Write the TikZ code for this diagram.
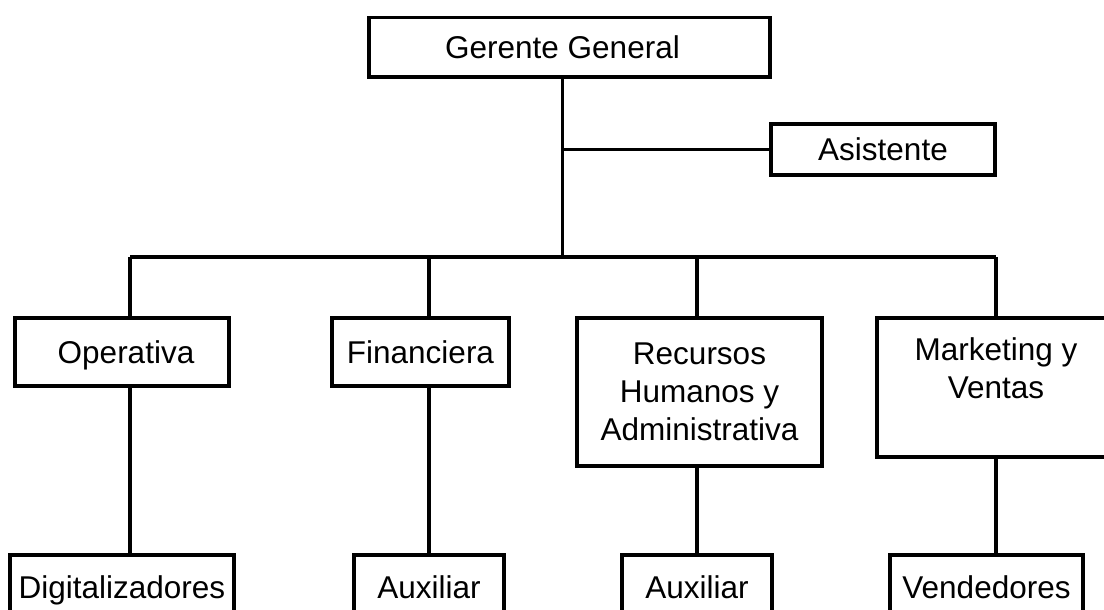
\documentclass[tikz,border=0pt]{standalone}
\usepackage{fontspec}
\setmainfont{Liberation Sans}
\begin{document}
\begin{tikzpicture}[x=1pt,y=-1pt,
  box/.style={draw,line width=3.3pt,inner sep=0pt,align=center,
    font=\fontsize{31.5}{38}\selectfont},
  oneline/.style={text height=28pt,text depth=5.4pt},
  link/.style={line width=3.3pt}]
\useasboundingbox (0,0) rectangle (1104,610);
\clip (0,0) rectangle (1104,610);
% top level
\node[box,oneline,minimum width=401pt,minimum height=59.5pt] (gg) at (569.5,47.25) {Gerente General\hspace*{14pt}};
\node[box,oneline,minimum width=224pt,minimum height=51pt] (asist) at (883,149.5) {Asistente};
% departments
\node[box,oneline,minimum width=214pt,minimum height=68pt] (op) at (122,352) {\hspace*{8pt}Operativa};
\node[box,oneline,minimum width=177pt,minimum height=68pt] (fin) at (420.5,352) {Financiera};
\node[box,minimum width=245pt,minimum height=148pt] (rh) at (699.5,392) {Recursos\\Humanos y\\Administrativa};
\node[box,minimum width=238pt,minimum height=139pt] (mk) at (996,387.5) {Marketing y\\Ventas\\\phantom{A}};
% staff
\node[box,oneline,minimum width=224pt,minimum height=64pt] (dig) at (122,587) {Digitalizadores};
\node[box,oneline,minimum width=150pt,minimum height=64pt] (aux1) at (429,587) {Auxiliar};
\node[box,oneline,minimum width=150pt,minimum height=64pt] (aux2) at (697,587) {Auxiliar};
\node[box,oneline,minimum width=193pt,minimum height=64pt] (ven) at (986.5,587) {Vendedores};
% branch points on the bus
\coordinate (trunk) at (562.7,257);
\coordinate (b1) at (130,257);
\coordinate (b2) at (429,257);
\coordinate (b3) at (697,257);
\coordinate (b4) at (996,257);
% connectors
\draw[link] (gg.south -| trunk) -- (trunk);
\draw[link] (trunk |- asist.west) -- (asist.west);
\draw[link] (b1) -- (b4);
\draw[link] (b1) -- (op.north -| b1);
\draw[link] (b2) -- (fin.north -| b2);
\draw[link] (b3) -- (rh.north -| b3);
\draw[link] (b4) -- (mk.north -| b4);
\draw[link] (op.south -| b1) -- (dig.north -| b1);
\draw[link] (fin.south -| b2) -- (aux1.north -| b2);
\draw[link] (rh.south -| b3) -- (aux2.north -| b3);
\draw[link] (mk.south -| b4) -- (ven.north -| b4);
\end{tikzpicture}
\end{document}
